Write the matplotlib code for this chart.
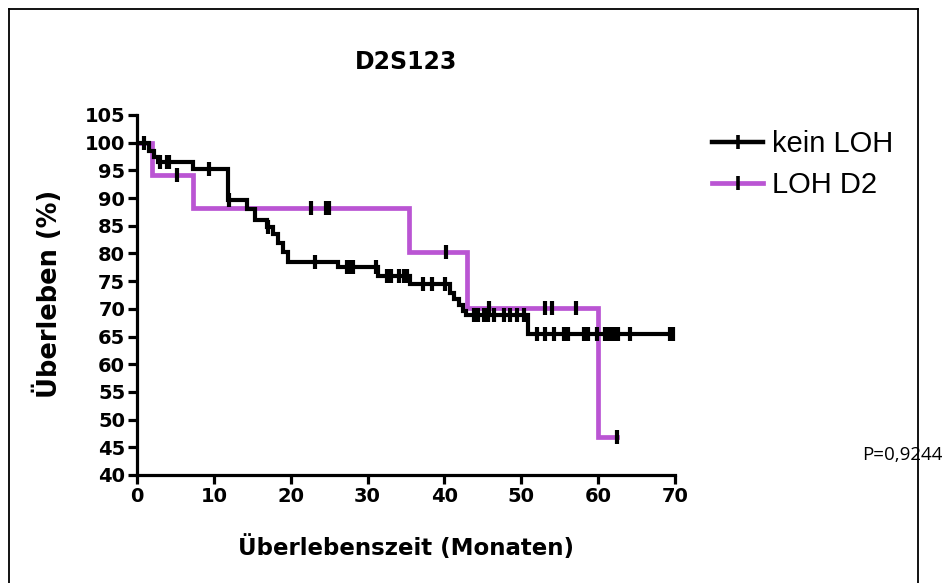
import numpy as np
import matplotlib
matplotlib.use("Agg")
import matplotlib.pyplot as plt
from matplotlib.lines import Line2D

# ---- data ----
title = "D2S123"
xlabel = "Überlebenszeit (Monaten)"
ylabel = "Überleben (%)"
series_names = ["kein LOH", "LOH D2"]
p_text = "P=0,9244"

x_ticks = [0, 10, 20, 30, 40, 50, 60, 70]
y_ticks = [40, 45, 50, 55, 60, 65, 70, 75, 80, 85, 90, 95, 100, 105]

# kein LOH (black): step times and survival after each step
kein_t = [0, 1.5, 2.2, 2.7, 7.3, 11.9, 14.3, 15.4, 16.9, 17.7, 18.4, 19.0, 19.7,
          26.2, 31.3, 35.5, 40.7, 41.3, 41.9, 42.4, 42.8, 50.9]
kein_s = [100, 98.5, 97.5, 96.6, 95.3, 89.6, 88.0, 86.0, 84.8, 83.6, 81.8, 80.3, 78.5,
          77.5, 76.0, 74.4, 72.8, 71.8, 70.7, 69.6, 68.8, 65.4]
kein_end = 69.8
kein_cens = [0.9, 3.0, 3.9, 4.1, 9.4, 12.0, 17.0, 23.2, 27.3, 27.7, 28.1, 31.1,
             32.5, 33.1, 34.1, 34.7, 35.1, 37.2, 38.4, 40.1, 43.8, 44.4, 45.1,
             45.7, 46.4, 47.7, 48.5, 49.4, 50.3, 52.0, 53.1, 54.2, 55.5, 56.1,
             58.1, 58.7, 59.8, 60.9, 61.3, 61.7, 62.2, 62.6, 64.1, 69.3, 69.8]

# LOH D2 (purple)
loh_t = [0, 2.0, 7.3, 35.4, 43.0, 60.0]
loh_s = [100, 94.1, 88.2, 80.2, 70.2, 46.8]
loh_end = 62.4
loh_cens = [5.2, 22.7, 24.6, 25.0, 40.2, 45.8, 53.1, 54.0, 57.1, 62.4]

# ---- styles ----
W, H = 942, 583
DPI = 100
colors = ["#000000", "#BA55D3"]

fig = plt.figure(figsize=(W / DPI, H / DPI), dpi=DPI)
fig.patch.set_facecolor("white")

def fx(px):
    return px / W

def fy(py):
    return 1 - py / H

ax = fig.add_axes([fx(137), fy(475), fx(675) - fx(137), fy(115) - fy(475)])
ax.set_xlim(0, 70)
ax.set_ylim(40, 105)
ax.set_xticks(x_ticks)
ax.set_yticks(y_ticks)
for s in ["top", "right"]:
    ax.spines[s].set_visible(False)
for s in ["left", "bottom"]:
    ax.spines[s].set_linewidth(2.3)
ax.tick_params(axis="both", direction="out", length=6.5, width=2.3, pad=2)
tick_font = dict(family="DejaVu Sans", weight="bold", size=14)
ax.set_xticklabels([str(v) for v in x_ticks], fontdict=tick_font)
ax.set_yticklabels([str(v) for v in y_ticks], fontdict=tick_font)
ax.patch.set_alpha(0)


def level_at(times, surv, t):
    idx = np.searchsorted(times, t, side="right") - 1
    return np.asarray(surv)[idx]


series = [
    (kein_t, kein_s, kein_end, kein_cens, colors[0], 3.0, 3),
    (loh_t, loh_s, loh_end, loh_cens, colors[1], 3.4, 2),
]
for times, surv, end, cens, col, lw, z in series:
    tt = list(times) + [end]
    ss = list(surv) + [surv[-1]]
    ax.step(tt, ss, where="post", color=col, lw=lw, zorder=z, solid_joinstyle="miter")
for times, surv, end, cens, col, lw, z in series:
    lv = level_at(times, surv, cens)
    ax.plot(cens, lv, linestyle="none", marker="|", markersize=9.5, mew=3.0,
            color="black", zorder=5)

# legend
handles = [
    Line2D([], [], color=colors[0], lw=3.2, marker="|", markersize=10, mew=2.6,
           markeredgecolor="black"),
    Line2D([], [], color=colors[1], lw=3.4, marker="|", markersize=10, mew=2.6,
           markeredgecolor="black"),
]
leg = fig.legend(handles, series_names, loc="upper left",
                 bbox_to_anchor=(fx(712), fy(130)), frameon=False,
                 prop=dict(family="Liberation Sans", size=21),
                 handlelength=1.75, handletextpad=0.3, labelspacing=0.45,
                 borderpad=0, borderaxespad=0, markerscale=1)

# title and axis labels
fig.text(fx(406), fy(62), title, ha="center", va="center",
         family="DejaVu Sans", weight="bold", size=17)
fig.text(fx(406), fy(548), xlabel, ha="center", va="center",
         family="DejaVu Sans", weight="bold", size=16.5)
fig.text(fx(48), fy(294), ylabel, ha="center", va="center", rotation=90,
         family="DejaVu Sans", weight="bold", size=18.5)
fig.text(fx(862), fy(455), p_text, ha="left", va="center",
         family="Open Sans", size=13.5)

# frame around the whole figure
fr = dict(color="black", lw=1.3, transform=fig.transFigure, clip_on=False)
fig.add_artist(Line2D([fx(8.5), fx(8.5)], [fy(8.5), 0], **fr))
fig.add_artist(Line2D([fx(8.5), fx(918)], [fy(8.5), fy(8.5)], **fr))
fig.add_artist(Line2D([fx(918), fx(918)], [fy(8.5), 0], **fr))

fig.savefig("out.png", dpi=DPI)
